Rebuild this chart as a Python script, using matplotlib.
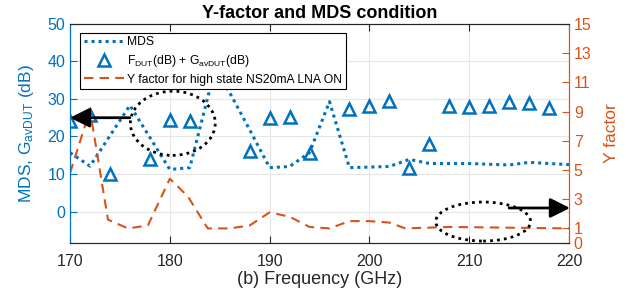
import numpy as np
import matplotlib
matplotlib.use('Agg')
import matplotlib.pyplot as plt
from matplotlib.patches import Ellipse

plt.rcParams['font.family'] = ['Liberation Sans', 'DejaVu Sans']
plt.rcParams['mathtext.fontset'] = 'custom'
plt.rcParams['mathtext.rm'] = 'Liberation Sans'
plt.rcParams['mathtext.it'] = 'Liberation Sans'

# MDS (left axis, dB)
mds_freq = [170, 172, 176, 180, 182, 184, 185, 186, 188, 190, 192, 194, 196, 198,
            202, 204, 206, 210, 214, 216, 220]
mds_val = [15.7, 12.1, 28.3, 11.2, 11.7, 32.5, 36.0, 31.7, 21.8, 11.7, 12.0, 15.7, 29.3, 11.7,
           12.0, 13.9, 12.8, 12.8, 12.4, 13.1, 12.5]

# F_DUT + G_avDUT triangles (left axis, dB)
tri_freq = [170, 172, 174, 178, 180, 182, 188, 190, 192, 194, 198, 200, 202,
            204, 206, 208, 210, 212, 214, 216, 218]
tri_val = [24.0, 25.6, 9.9, 13.9, 24.5, 24.1, 16.1, 25.0, 25.2, 15.7, 27.2, 28.1, 29.4,
           11.5, 17.9, 28.1, 27.9, 28.1, 29.1, 28.8, 27.6]

# Y factor (right axis)
y_freq = [170, 172, 173.8, 175.8, 177.8, 180, 181.8, 183.8, 186, 188, 190, 192, 194,
          196, 198, 200, 202, 203.6, 208, 220]
y_val = [4.8, 9.1, 1.6, 1.0, 1.2, 4.4, 3.2, 1.0, 1.0, 1.2, 2.1, 1.8, 1.1,
         1.0, 1.5, 1.5, 1.4, 1.0, 1.1, 1.0]

blue = '#0072BD'
orange = '#D95319'

fig = plt.figure(figsize=(6.31, 2.96), dpi=100)
ax1 = fig.add_axes([0.111, 0.179, 0.7907, 0.740])
ax2 = ax1.twinx()

ax1.plot(mds_freq, mds_val, linestyle=(0, (1, 1.3)), color=blue, lw=2.2, label='MDS')
ax1.plot(tri_freq, tri_val, linestyle='none', marker='^', ms=8, mfc='none', mec=blue,
         mew=1.8, label='F$_{DUT}$(dB) + G$_{avDUT}$(dB)')
ax2.plot(y_freq, y_val, linestyle=(0, (4.5, 3)), color=orange, lw=1.5,
         label='Y factor for high state NS20mA LNA ON')

ax1.set_xlim(170, 220)
ax1.set_ylim(-8.4, 50)
ax2.set_ylim(0, 15)
ax1.set_xticks(np.arange(170, 221, 10))
ax1.set_yticks(np.arange(0, 51, 10))
ax2.set_yticks([0, 1, 3, 5, 7, 9, 11, 13, 15])

ax1.grid(True, color='#e6e6e6', lw=0.8)
ax1.set_axisbelow(True)

ax1.tick_params(axis='x', direction='in', top=True, length=5, colors='#262626',
                labelsize=11.5, pad=8)
ax1.tick_params(axis='y', direction='in', length=5, colors=blue, labelsize=11.5)
ax2.tick_params(axis='y', direction='in', length=5, colors=orange, labelsize=11.5)

for a in (ax1, ax2):
    a.spines['left'].set_color(blue)
    a.spines['right'].set_color(orange)
    a.spines['top'].set_color('#262626')
    a.spines['bottom'].set_color('#262626')

ax1.set_xlabel('(b) Frequency (GHz)', fontsize=13, color='#262626', labelpad=1)
ax1.set_ylabel('MDS, G$_{avDUT}$ (dB)', fontsize=12.5, color=blue, labelpad=8)
ax2.set_ylabel('Y factor', fontsize=12.5, color=orange, labelpad=9)
ax1.set_title('Y-factor and MDS condition', fontsize=13, fontweight='bold', pad=4)

# annotations (right-axis data coords)
ax2.add_patch(Ellipse((180.3, 8.2), 8.5, 4.4, fill=False, ls=(0, (1, 1.5)), lw=2,
                      ec='black', zorder=11))
ax2.add_patch(Ellipse((211.4, 1.47), 9.5, 2.67, fill=False, ls=(0, (1, 1.5)), lw=2,
                      ec='black', zorder=11))
ax2.annotate('', xy=(170.0, 8.58), xytext=(176.0, 8.58), annotation_clip=False,
             arrowprops=dict(arrowstyle='-|>,head_length=1.2,head_width=0.6',
                             color='black', lw=2, shrinkA=0, shrinkB=0), zorder=12)
ax2.annotate('', xy=(220.1, 2.4), xytext=(214.0, 2.4), annotation_clip=False,
             arrowprops=dict(arrowstyle='-|>,head_length=1.2,head_width=0.6',
                             color='black', lw=2, shrinkA=0, shrinkB=0), zorder=12)

h1, l1 = ax1.get_legend_handles_labels()
h2, l2 = ax2.get_legend_handles_labels()
leg = ax2.legend(h1 + h2, l1 + l2, loc='upper left', bbox_to_anchor=(0.02, 0.96),
                 fontsize=8.7, fancybox=False, framealpha=1, edgecolor='black',
                 handlelength=3.3, borderpad=0.3, labelspacing=0.38, handletextpad=0.3,
                 borderaxespad=0)
leg.get_frame().set_linewidth(0.8)
leg.set_zorder(10)

fig.savefig('out.png', dpi=100)
